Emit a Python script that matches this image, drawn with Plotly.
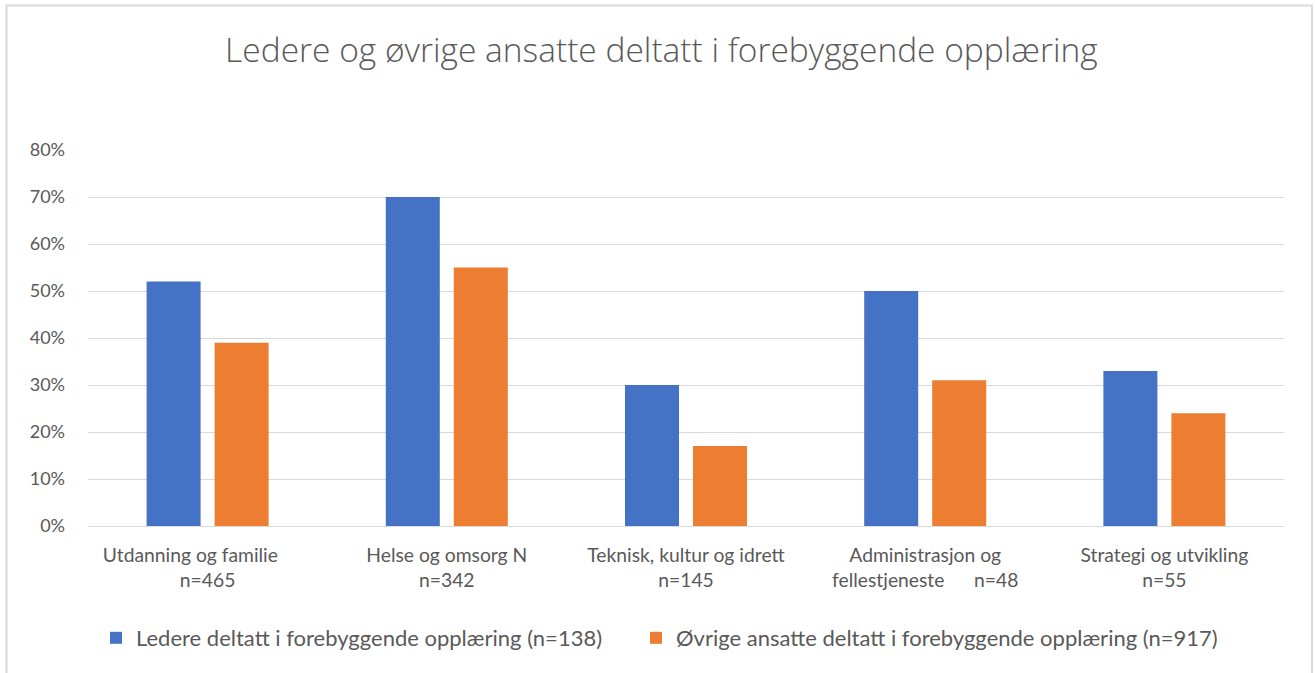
import plotly.graph_objects as go

categories = [
    "Utdanning og familie       <br>n=465",
    "Helse og omsorg N<br>n=342",
    "Teknisk, kultur og idrett<br>n=145",
    "Administrasjon og<br>fellestjeneste      n=48",
    "Strategi og utvikling<br>n=55",
]
ledere = [52, 70, 30, 50, 33]
ovrige = [39, 55, 17, 31, 24]
series_names = [
    "Ledere deltatt i forebyggende opplæring (n=138)",
    "Øvrige ansatte deltatt i forebyggende opplæring (n=917)",
]
colors = ["#4472C4", "#ED7D31"]
title_text = "Ledere og øvrige ansatte deltatt i forebyggende opplæring"

W, H = 1315, 673
L, R, T, B = 88, 31, 150, 147
pw, ph = W - L - R, H - T - B

n = len(categories)
bar_w = 54 / pw * n
fig = go.Figure()
fig.add_trace(go.Bar(x=categories, y=ledere, name=series_names[0],
                     marker=dict(color=colors[0], line=dict(width=0)),
                     width=bar_w, offset=-61 / pw * n, legend="legend"))
fig.add_trace(go.Bar(x=categories, y=ovrige, name=series_names[1],
                     marker=dict(color=colors[1], line=dict(width=0)),
                     width=bar_w, offset=7 / pw * n, legend="legend2"))

def px_x(px):
    return (px - L) / pw

def px_y(py):
    return (H - B - py) / ph

fig.add_shape(type="rect", xref="paper", yref="paper",
              x0=px_x(6.5), x1=px_x(1312), y0=px_y(700), y1=px_y(5.5),
              line=dict(color="#D9D9D9", width=2), fillcolor="rgba(0,0,0,0)", layer="below")

leg_common = dict(orientation="h", xanchor="left", yref="paper", y=px_y(638),
                  yanchor="middle", font=dict(size=22, color="#595959"),
                  itemwidth=30, bgcolor="rgba(0,0,0,0)")

fig.update_layout(
    width=W, height=H,
    margin=dict(l=L, r=R, t=T, b=B, autoexpand=False),
    paper_bgcolor="white", plot_bgcolor="white",
    font=dict(family="Lato", color="#595959", size=18),
    title=dict(text=title_text, x=0.503, xref="container", xanchor="center",
               y=1 - 50 / H, yref="container", yanchor="middle",
               font=dict(family="Open Sans", size=33.5, color="#595959", weight=300)),
    barmode="group",
    showlegend=True,
    legend=dict(x=px_x(96), **leg_common),
    legend2=dict(x=px_x(636), **leg_common),
    xaxis=dict(showgrid=False, showline=False, ticks="", ticklabelstandoff=16,
               tickangle=0, automargin=False,
               tickfont=dict(size=19.3, color="#595959")),
    yaxis=dict(range=[0, 80], dtick=10, ticksuffix="%", showgrid=True,
               gridcolor="#D9D9D9", gridwidth=1, zeroline=True,
               zerolinecolor="#D9D9D9", zerolinewidth=1, showline=False,
               automargin=False,
               ticklabelstandoff=22, tickfont=dict(size=18, color="#595959")),
)

fig.write_html("out.html", config={"displayModeBar": False},
               post_script="document.body.style.margin='0';document.body.style.padding='0';")
